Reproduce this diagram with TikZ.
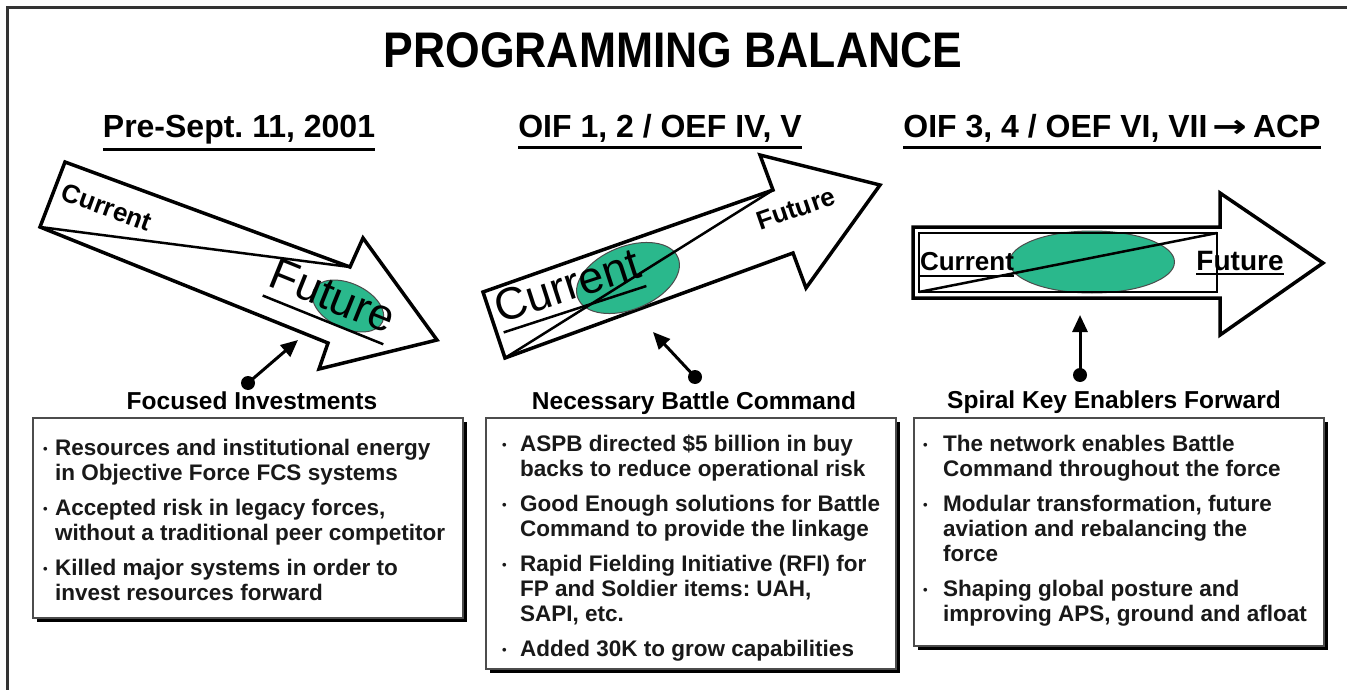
\documentclass[tikz,border=0pt]{standalone}
\usepackage{fontspec}
\setmainfont{Liberation Sans}
\newfontfamily\symfont{DejaVu Sans}
\usetikzlibrary{arrows.meta,shapes.geometric,shadows}
\definecolor{tealgreen}{RGB}{42,184,140}
\newcommand{\ulx}[3]{\vtop{\hbox{#3}\kern#1\hrule height#2}}
\newcommand{\bul}[1]{\makebox[#1][l]{\raisebox{2pt}{\fontsize{13}{13}\selectfont\textbullet}}}
\frenchspacing
\tikzset{
  bigarrow/.style={draw=black, line width=3.5pt, fill=white, line join=miter},
  divider/.style={draw=black, line width=2.5pt},
  blob/.style={ellipse, fill=tealgreen, draw=black!70, line width=1pt, inner sep=0pt},
  head/.style={font=\bfseries\fontsize{32}{32}\selectfont, inner sep=0pt, anchor=base},
  lab/.style={font=\bfseries\fontsize{24.5}{24.5}\selectfont, inner sep=0pt, anchor=base},
  box/.style={draw=black!70, line width=1.5pt, fill=white, anchor=north west, inner sep=0pt,
    drop shadow={shadow xshift=4.5pt, shadow yshift=-4.5pt, fill=black, opacity=1}},
  boxtext/.style={font=\bfseries\fontsize{22.5}{25}\selectfont, align=left, inner sep=0pt, anchor=north west, text=black!90},
  dot/.style={circle, fill=black, minimum size=14pt, inner sep=0pt},
  ptr/.style={line width=3pt, -{Triangle[length=17pt,width=15pt]}},
}
\begin{document}
\begin{tikzpicture}[x=1pt, y=-1pt]
\useasboundingbox (0,0) rectangle (1347,690);
\fill[white] (0,0) rectangle (1347,690);
\draw[line width=3pt, black!80] (7,690) -- (7,8) -- (1347,8);

% title
\node[font=\bfseries\fontsize{50}{50}\selectfont, inner sep=0pt] (title) at (673,50) {\scalebox{0.89}[1]{PROGRAMMING BALANCE}};

% headings
\node[head] (h1) at (239,138) {\ulx{3pt}{3pt}{Pre-Sept. 11, 2001}};
\node[head] (h2) at (660,138) {\ulx{3pt}{3pt}{OIF 1, 2 / OEF IV, V}};
\node[head] (h3) at (1112,138) {\ulx{3pt}{3pt}{OIF 3, 4 / OEF VI, VII\,{\symfont\bfseries\scalebox{1.3}[1]{→}}\,ACP}};

% arrow 1
\draw[bigarrow] (65,162) -- (350,267) -- (363,238) -- (437,340) -- (319,369) -- (328,343) -- (40,227) -- cycle;
\node[blob, minimum width=76pt, minimum height=45pt, rotate=-25] (e1) at (348,306) {};
\draw[divider] (40,227) -- (350,267);
\node[font=\bfseries\fontsize{26}{26}\selectfont, inner sep=0pt, rotate=-20] (c1) at (107,207) {Current};
\node[font=\fontsize{45}{45}\selectfont, inner sep=0pt, anchor=base, rotate=-22] (f1) at (327,310) {\ulx{9pt}{2.5pt}{Future}};

% arrow 2
\draw[bigarrow] (483,292) -- (773,190) -- (760,155) -- (880,185) -- (806,288) -- (793,253) -- (505,358) -- cycle;
\node[blob, minimum width=108pt, minimum height=63pt, rotate=22] (e2) at (628,278) {};
\draw[divider] (505,358) -- (773,190);
\node[font=\fontsize{45}{45}\selectfont, inner sep=0pt, anchor=base, rotate=18] (c2) at (572,300) {\ulx{8pt}{2.5pt}{Current}};
\node[font=\bfseries\fontsize{26}{26}\selectfont, inner sep=0pt, anchor=base, rotate=19] (f2) at (799,217) {Future};

% arrow 3
\draw[bigarrow] (913,227) -- (1220,227) -- (1220,193) -- (1323,263) -- (1220,335) -- (1220,298) -- (913,298) -- cycle;
\node[blob, minimum width=165pt, minimum height=62pt] (e3) at (1092,262) {};
\draw[line width=1.5pt] (919,233) rectangle (1217,292);
\draw[divider] (919,292) -- (1217,233);
\node[font=\bfseries\fontsize{26}{26}\selectfont, inner sep=0pt, anchor=base] (c3) at (967,270) {\ulx{5pt}{2pt}{Current}};
\node[font=\bfseries\fontsize{28}{28}\selectfont, inner sep=0pt, anchor=base] (f3) at (1240,270) {\ulx{3pt}{2pt}{Future}};

% pointers
\node[dot] (d1) at (248,383) {};
\coordinate (p1) at (298,340);
\draw[ptr] (d1.center) -- (p1);
\node[dot] (d2) at (695,377) {};
\coordinate (p2) at (653,332);
\draw[ptr] (d2.center) -- (p2);
\node[dot] (d3) at (1080,375) {};
\coordinate (p3) at (1080,315);
\draw[ptr] (d3.center) -- (p3);

% labels
\node[lab] (l1) at (252,409) {Focused Investments};
\node[lab] (l2) at (694,409) {Necessary Battle Command};
\node[lab] (l3) at (1114,408) {Spiral Key Enablers Forward};

% boxes
\node[box, minimum width=430pt, minimum height=200pt] (b1) at (32,417) {};
\node[box, minimum width=410pt, minimum height=251pt] (b2) at (485,417) {};
\node[box, minimum width=410pt, minimum height=228pt] (b3) at (913,417) {};

\node[boxtext] (t1) at (43,439) {%
\bul{12pt}Resources and institutional energy\\
\hspace*{12pt}in Objective Force FCS systems\\[10pt]
\bul{12pt}Accepted risk in legacy forces,\\
\hspace*{12pt}without a traditional peer competitor\\[10pt]
\bul{12pt}Killed major systems in order to\\
\hspace*{12pt}invest resources forward};

\node[boxtext] (t2) at (502,435) {%
\bul{18pt}ASPB directed \$5 billion in buy\\
\hspace*{18pt}backs to reduce operational risk\\[10pt]
\bul{18pt}Good Enough solutions for Battle\\
\hspace*{18pt}Command to provide the linkage\\[10pt]
\bul{18pt}Rapid Fielding Initiative (RFI) for\\
\hspace*{18pt}FP and Soldier items: UAH,\\
\hspace*{18pt}SAPI, etc.\\[10pt]
\bul{18pt}Added 30K to grow capabilities};

\node[boxtext] (t3) at (923,435) {%
\bul{20pt}The network enables Battle\\
\hspace*{20pt}Command throughout the force\\[10pt]
\bul{20pt}Modular transformation, future\\
\hspace*{20pt}aviation and rebalancing the\\
\hspace*{20pt}force\\[10pt]
\bul{20pt}Shaping global posture and\\
\hspace*{20pt}improving APS, ground and afloat};
\end{tikzpicture}
\end{document}
